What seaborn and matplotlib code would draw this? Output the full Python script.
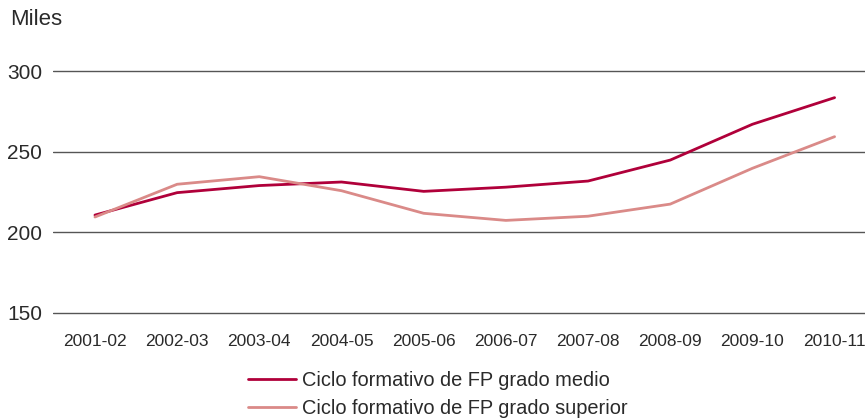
import pandas as pd
import matplotlib.pyplot as plt
import seaborn as sns

# Data (thousands)
cursos = ['2001-02', '2002-03', '2003-04', '2004-05', '2005-06',
          '2006-07', '2007-08', '2008-09', '2009-10', '2010-11']
grado_medio = [210.7, 224.6, 229.0, 231.2, 225.4, 228.0, 231.8, 244.8, 267.0, 283.5]
grado_superior = [209.5, 229.8, 234.5, 225.8, 211.8, 207.4, 210.0, 217.5, 239.7, 259.3]
series = ['Ciclo formativo de FP grado medio', 'Ciclo formativo de FP grado superior']
colores = ['#B0003A', '#DA8A88']

df = pd.DataFrame({
    'pos': list(range(len(cursos))) * 2,
    'valor': grado_medio + grado_superior,
    'serie': [series[0]] * len(cursos) + [series[1]] * len(cursos),
})

sns.set_style('white')
plt.rcParams['font.family'] = ['Liberation Sans', 'DejaVu Sans']

fig = plt.figure(figsize=(8.65, 4.18), dpi=100)
ax = fig.add_axes([0.0613, 0.2435, 0.9387, 0.5943])

sns.lineplot(data=df, x='pos', y='valor', hue='serie', palette=colores,
             linewidth=2.0, ax=ax, legend=True)

ax.set_ylim(148, 302)
ax.set_xlim(-0.51, 9.37)
ax.set_yticks([150, 200, 250, 300])
ax.set_xticks(range(len(cursos)))
ax.set_xticklabels(cursos)
ax.yaxis.grid(True, color='#555555', linewidth=1.0)
ax.set_axisbelow(True)
for s in ax.spines.values():
    s.set_visible(False)
ax.tick_params(axis='y', labelsize=15, colors='#2a2a2a', length=0, pad=8)
ax.tick_params(axis='x', labelsize=12.5, colors='#2a2a2a', length=0, pad=13)
ax.set_xlabel('')
ax.set_ylabel('')

fig.text(0.0116, 0.954, 'Miles', fontsize=16, color='#2a2a2a', va='center')

handles, labels = ax.get_legend_handles_labels()
ax.legend(handles, labels, loc='upper left', bbox_to_anchor=(0.2654, 0.1555),
          bbox_transform=fig.transFigure, frameon=False, fontsize=14.4,
          handlelength=2.4, handletextpad=0.3, labelspacing=0.45,
          labelcolor='#2a2a2a')

fig.savefig('out.png', dpi=100)
